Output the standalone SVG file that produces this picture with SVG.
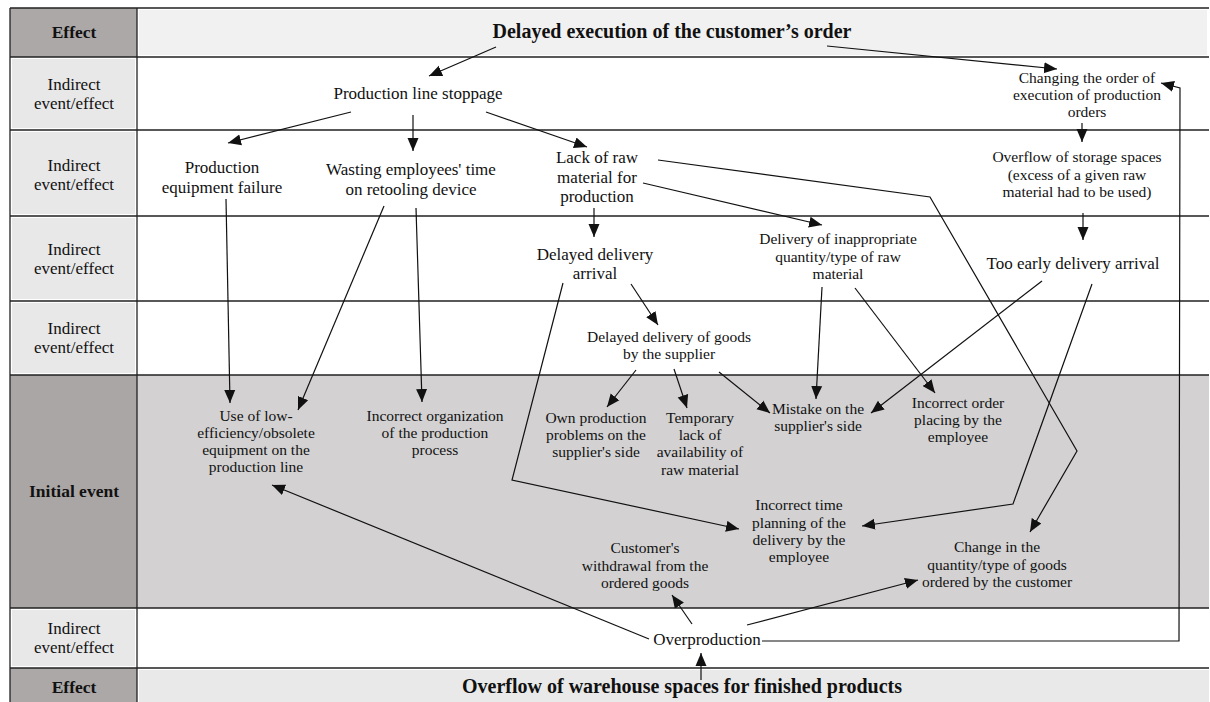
<svg xmlns="http://www.w3.org/2000/svg" width="1210" height="702" viewBox="0 0 1210 702">
<style>
text { font-family: "Liberation Serif", "Times New Roman", serif; fill: #111; text-anchor: middle; }
.s { font-size: 15.5px; }
.m { font-size: 17px; }
.h { font-size: 20px; font-weight: bold; }
.lab { font-size: 17px; }
.labb { font-size: 17.5px; font-weight: bold; }
.grid { stroke: #222; stroke-width: 1.3; fill: none; }
.cn { stroke: #111; stroke-width: 1.2; fill: none; marker-end: url(#ah); }
</style>
<defs>
<marker id="ah" markerUnits="userSpaceOnUse" markerWidth="14" markerHeight="12" refX="13" refY="6" orient="auto">
<path d="M0,0.5 L13,6 L0,11.5 Z" fill="#111"/>
</marker>
</defs>
<rect width="1210" height="702" fill="#fff"/>
<g id="table">
<rect x="10" y="8" width="127" height="49" fill="#aca8a8"/>
<rect x="139" y="10" width="1068" height="45" fill="#f1f1f1"/>
<rect x="12" y="59" width="123" height="69" fill="#e8e8e8"/>
<rect x="12" y="132" width="123" height="82" fill="#e8e8e8"/>
<rect x="12" y="218" width="123" height="81" fill="#e8e8e8"/>
<rect x="12" y="303" width="123" height="70" fill="#e8e8e8"/>
<rect x="10" y="375" width="127" height="233" fill="#aba6a6"/>
<rect x="137" y="375" width="1072" height="233" fill="#d3d1d2"/>
<rect x="12" y="610" width="123" height="56" fill="#e8e8e8"/>
<rect x="10" y="668" width="127" height="34" fill="#aca8a8"/>
<rect x="139" y="670" width="1070" height="32" fill="#e9e9e9"/>
<path class="grid" d="M10,8 H1209 M10,57 H1209 M10,130 H1209 M10,216 H1209 M10,301 H1209 M10,375 H1209 M10,608 H1209 M10,668 H1209 M10,8 V702 M137,8 V702"/>
</g>
<g id="labels">
<text class="labb" x="74" y="38">Effect</text>
<text class="lab" x="74" y="90">Indirect<tspan x="74" y="109">event/effect</tspan></text>
<text class="lab" x="74" y="171">Indirect<tspan x="74" y="190">event/effect</tspan></text>
<text class="lab" x="74" y="255">Indirect<tspan x="74" y="274">event/effect</tspan></text>
<text class="lab" x="74" y="334">Indirect<tspan x="74" y="353">event/effect</tspan></text>
<text class="labb" x="74" y="497">Initial event</text>
<text class="lab" x="74" y="634">Indirect<tspan x="74" y="653">event/effect</tspan></text>
<text class="labb" x="74" y="693">Effect</text>
</g>
<g id="connectors">
<path class="cn" d="M496,47 L429,76"/>
<path class="cn" d="M827,46 L1057,69"/>
<path class="cn" d="M351,112 L228,143"/>
<path class="cn" d="M413,115 L413,151"/>
<path class="cn" d="M486,112 L587,147"/>
<path class="cn" d="M1082,123 L1082,142"/>
<path class="cn" d="M226,199 L230,403"/>
<path class="cn" d="M384,206 L298,410"/>
<path class="cn" d="M416,208 L422,402"/>
<path class="cn" d="M594,208 L594,237"/>
<path class="cn" d="M643,183 L822,225"/>
<path class="cn" d="M658,160 L930,197 L1077,451 L1030,532"/>
<path class="cn" d="M631,284 L658,325"/>
<path class="cn" d="M563,283 L512,480 L739,529"/>
<path class="cn" d="M822,287 L816,399"/>
<path class="cn" d="M855,288 L935,393"/>
<path class="cn" d="M1083,213 L1083,240"/>
<path class="cn" d="M1042,281 L871,413"/>
<path class="cn" d="M1092,284 L1013,504 L862,526"/>
<path class="cn" d="M636,370 L607,407"/>
<path class="cn" d="M674,369 L687,408"/>
<path class="cn" d="M719,372 L770,413"/>
<path class="cn" d="M649,639 L272,485"/>
<path class="cn" d="M692,624 L672,595"/>
<path class="cn" d="M747,625 L918,580"/>
<path class="cn" d="M762,641 L1179,641 L1180,88 L1161,83"/>
<path class="cn" d="M701,680 L701,653"/>
</g>
<g id="n-effect-top"><text class="h" x="672" y="38">Delayed execution of the customer’s order</text></g>
<g id="n-stoppage"><text class="m" x="418" y="99">Production line stoppage</text></g>
<g id="n-changing"><text class="s" x="1087" y="83">Changing the order of<tspan x="1087" y="100">execution of production</tspan><tspan x="1087" y="117">orders</tspan></text></g>
<g id="n-failure"><text class="m" x="222" y="173">Production<tspan x="222" y="193">equipment failure</tspan></text></g>
<g id="n-wasting"><text class="m" x="411" y="175">Wasting employees' time<tspan x="411" y="195">on retooling device</tspan></text></g>
<g id="n-lack"><text class="m" x="597" y="163">Lack of raw<tspan x="597" y="183">material for</tspan><tspan x="597" y="202">production</tspan></text></g>
<g id="n-overflow-storage"><text class="s" x="1077" y="162">Overflow of storage spaces<tspan x="1077" y="179.5">(excess of a given raw</tspan><tspan x="1077" y="197">material had to be used)</tspan></text></g>
<g id="n-delayed-arrival"><text class="m" x="595" y="260">Delayed delivery<tspan x="595" y="279">arrival</tspan></text></g>
<g id="n-inappropriate"><text class="s" x="838" y="244">Delivery of inappropriate<tspan x="838" y="261.5">quantity/type of raw</tspan><tspan x="838" y="279">material</tspan></text></g>
<g id="n-too-early"><text class="m" x="1073" y="269">Too early delivery arrival</text></g>
<g id="n-delayed-goods"><text class="s" x="669" y="342">Delayed delivery of goods<tspan x="669" y="359">by the supplier</tspan></text></g>
<g id="n-low-eff"><text class="s" x="256" y="421">Use of low-<tspan x="256" y="438">efficiency/obsolete</tspan><tspan x="256" y="455">equipment on the</tspan><tspan x="256" y="472">production line</tspan></text></g>
<g id="n-organization"><text class="s" x="435" y="421">Incorrect organization<tspan x="435" y="438">of the production</tspan><tspan x="435" y="455">process</tspan></text></g>
<g id="n-own-problems"><text class="s" x="596" y="423">Own production<tspan x="596" y="440">problems on the</tspan><tspan x="596" y="457">supplier's side</tspan></text></g>
<g id="n-temporary"><text class="s" x="700" y="423">Temporary<tspan x="700" y="440">lack of</tspan><tspan x="700" y="457">availability of</tspan><tspan x="700" y="475">raw material</tspan></text></g>
<g id="n-mistake"><text class="s" x="818" y="414">Mistake on the<tspan x="818" y="431">supplier's side</tspan></text></g>
<g id="n-order-placing"><text class="s" x="958" y="408">Incorrect order<tspan x="958" y="425">placing by the</tspan><tspan x="958" y="442">employee</tspan></text></g>
<g id="n-time-planning"><text class="s" x="799" y="510">Incorrect time<tspan x="799" y="527.5">planning of the</tspan><tspan x="799" y="545">delivery by the</tspan><tspan x="799" y="562">employee</tspan></text></g>
<g id="n-withdrawal"><text class="s" x="645" y="553">Customer's<tspan x="645" y="570.5">withdrawal from the</tspan><tspan x="645" y="588">ordered goods</tspan></text></g>
<g id="n-change-qty"><text class="s" x="997" y="552">Change in the<tspan x="997" y="569.5">quantity/type of goods</tspan><tspan x="997" y="587">ordered by the customer</tspan></text></g>
<g id="n-overproduction"><text class="m" x="707" y="645">Overproduction</text></g>
<g id="n-effect-bottom"><text class="h" x="682" y="693">Overflow of warehouse spaces for finished products</text></g>
</svg>
